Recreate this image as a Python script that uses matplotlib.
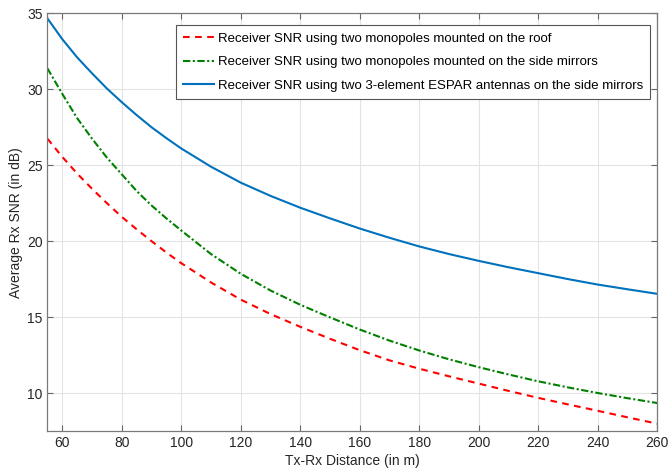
import matplotlib
matplotlib.use("Agg")
import matplotlib.pyplot as plt

plt.rcParams['font.family'] = ['Liberation Sans', 'DejaVu Sans']

distance = [55, 60, 65, 70, 75, 80, 85, 90, 95, 100, 110, 120, 130, 140, 150,
            160, 170, 180, 190, 200, 210, 220, 230, 240, 250, 260]

snr_roof = [26.75, 25.55, 24.45, 23.45, 22.5, 21.6, 20.78, 20.0, 19.25, 18.55,
            17.28, 16.15, 15.2, 14.36, 13.57, 12.82, 12.15, 11.6, 11.1, 10.62,
            10.14, 9.68, 9.25, 8.83, 8.4, 7.98]
snr_mirror = [31.38, 29.7, 28.1, 26.75, 25.5, 24.4, 23.3, 22.35, 21.5, 20.7,
              19.15, 17.85, 16.75, 15.81, 14.98, 14.18, 13.45, 12.8, 12.22, 11.7,
              11.22, 10.77, 10.37, 10.0, 9.66, 9.34]
snr_espar = [34.67, 33.3, 32.1, 31.05, 30.05, 29.15, 28.3, 27.5, 26.78, 26.1,
             24.9, 23.85, 22.98, 22.2, 21.5, 20.83, 20.22, 19.65, 19.15, 18.7,
             18.28, 17.89, 17.5, 17.14, 16.83, 16.53]

labels = ["Receiver SNR using two monopoles mounted on the roof",
          "Receiver SNR using two monopoles mounted on the side mirrors",
          "Receiver SNR using two 3-element ESPAR antennas on the side mirrors"]

xticks = [60, 80, 100, 120, 140, 160, 180, 200, 220, 240, 260]
yticks = [10, 15, 20, 25, 30, 35]

fig = plt.figure(figsize=(6.7, 4.7), dpi=100)
ax = fig.add_axes([0.0707, 0.083, 0.9103, 0.8887])

ax.plot(distance, snr_roof, color='#ff0000', linestyle=(0, (3.2, 2.6)), linewidth=1.5, label=labels[0])
ax.plot(distance, snr_mirror, color='#008000', linestyle=(0, (3.5, 1.2, 1, 1.2)), linewidth=1.5, label=labels[1])
ax.plot(distance, snr_espar, color='#0072bd', linestyle='-', linewidth=1.5, label=labels[2])

ax.set_xlim(55, 260)
ax.set_ylim(7.5, 35)
ax.set_xticks(xticks)
ax.set_yticks(yticks)
ax.grid(True, color='#e3e3e3', linewidth=0.8)
ax.set_axisbelow(True)
ax.tick_params(direction='in', length=4, width=0.8, top=True, right=True,
               labelsize=10, colors='#666666', labelcolor='#262626')
for s in ax.spines.values():
    s.set_color('#7a7a7a')
    s.set_linewidth(0.9)

ax.set_xlabel("Tx-Rx Distance (in m)", fontsize=10, color='#262626', labelpad=3)
ax.set_ylabel("Average Rx SNR (in dB)", fontsize=10, color='#262626', labelpad=3)

leg = ax.legend(loc='upper right', bbox_to_anchor=(0.9885, 0.971), fontsize=9.5,
                handlelength=2.3, handletextpad=0.3, borderpad=0.55, labelspacing=0.85,
                fancybox=False, framealpha=1, edgecolor='#555555', borderaxespad=0)
leg.get_frame().set_linewidth(0.8)

fig.savefig("out.png", dpi=100)
